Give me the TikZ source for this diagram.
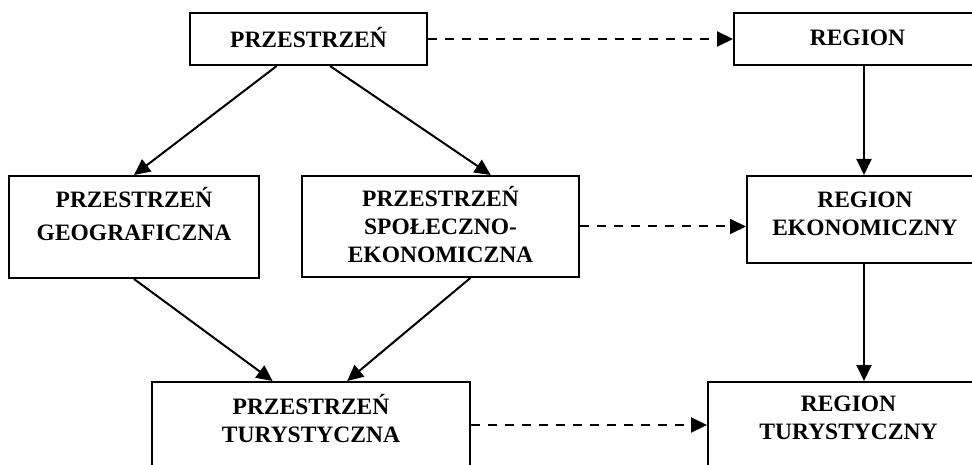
\documentclass[tikz,border=0pt]{standalone}
\usepackage{fontspec}
\setmainfont{Liberation Serif}
\usetikzlibrary{arrows.meta,calc}

\begin{document}
\begin{tikzpicture}[x=1pt,y=-1pt,
    box/.style={draw, line width=2pt, inner sep=0pt, align=center,
      font=\fontsize{23.5}{28}\selectfont\bfseries},
    link/.style={line width=2pt, -{Triangle[length=16pt,width=15pt]}},
    dlink/.style={link, dash pattern=on 9pt off 8pt}]
    \useasboundingbox (0,0) rectangle (972,465);

    % Top row
    \node[box, minimum width=237pt, minimum height=52pt, text depth=3pt] (prz) at (308.5,39) {PRZESTRZEŃ};
    \node[box, minimum width=247pt, minimum height=52pt, text depth=3pt] (reg) at (857.5,39) {REGION};

    % Middle row
    \node[box, minimum width=250pt, minimum height=102pt, text depth=26pt] (geo) at (134,227) {PRZESTRZEŃ\\[5pt]GEOGRAFICZNA};
    \node[box, minimum width=277pt, minimum height=101pt, text depth=4.6pt] (spo) at (440.5,226.5) {PRZESTRZEŃ\\SPOŁECZNO-\\EKONOMICZNA};
    \node[box, minimum width=236pt, minimum height=87pt, text depth=12pt] (eko) at (865,219.5) {REGION\\EKONOMICZNY};

    % Bottom row
    \node[box, minimum width=318pt, minimum height=100pt, text depth=27.6pt] (tur) at (311,432) {PRZESTRZEŃ\\TURYSTYCZNA};
    \node[box, minimum width=281pt, minimum height=100pt, text depth=27.6pt] (rtur) at (848.5,432) {REGION\\TURYSTYCZNY};

    % Left part
    \draw[link] ($(prz.south west)!0.367!(prz.south east)$) -- (geo.north);
    \draw[link] ($(prz.south west)!0.59!(prz.south east)$) -- ($(spo.north west)!0.68!(spo.north east)$);
    \draw[link] (geo.south) -- ($(tur.north west)!0.38!(tur.north east)$);
    \draw[link] ($(spo.south west)!0.607!(spo.south east)$) -- ($(tur.north west)!0.613!(tur.north east)$);

    % Right column
    \coordinate (col) at (864,0);
    \draw[link] (reg.south -| col) -- (eko.north -| col);
    \draw[link] (eko.south -| col) -- (rtur.north -| col);

    % Dashed links
    \coordinate (low) at (0,425);
    \draw[dlink] (prz.east) -- (prz.east -| reg.west);
    \draw[dlink] (spo.east) -- (spo.east -| eko.west);
    \draw[dlink] (tur.east |- low) -- (rtur.west |- low);
\end{tikzpicture}
\end{document}
